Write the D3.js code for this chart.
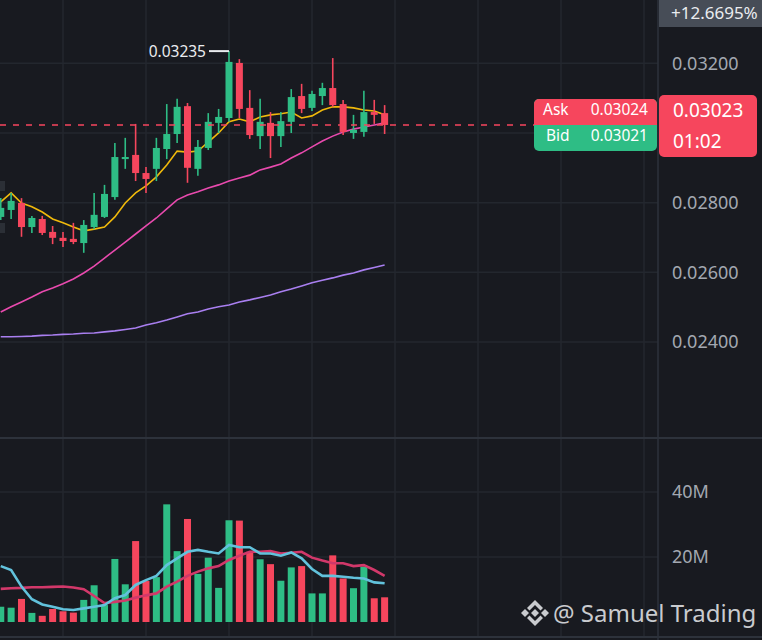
<!DOCTYPE html>
<html>
<head>
<meta charset="utf-8">
<script src="https://cdn.jsdelivr.net/npm/d3@7"></script>
<style>
    html, body { margin: 0; padding: 0; background: #181a20; }
    svg { display: block; font-family: "Noto Sans", sans-serif; }
</style>
</head>
<body>
<svg width="762" height="640"></svg>
<script>
// candles (oldest first)
let opens  = [0.02759, 0.02779, 0.02799, 0.02730, 0.02753, 0.02716, 0.02699, 0.02696, 0.02684, 0.02730,
              0.02759, 0.02816, 0.02925, 0.02937, 0.02885, 0.02897, 0.02954, 0.02997, 0.03077, 0.02897,
              0.02957, 0.03029, 0.03043, 0.03201, 0.03072, 0.02991, 0.03029, 0.02991, 0.03032, 0.03106,
              0.03072, 0.03106, 0.03129, 0.03083, 0.03000, 0.03003, 0.03060, 0.03057];
let highs  = [0.02813, 0.02828, 0.02813, 0.02762, 0.02762, 0.02733, 0.02716, 0.02742, 0.02750, 0.02828,
              0.02851, 0.02971, 0.02986, 0.03026, 0.02902, 0.02986, 0.03083, 0.03098, 0.03086, 0.02980,
              0.03057, 0.03069, 0.03235, 0.03212, 0.03123, 0.03098, 0.03060, 0.03060, 0.03126, 0.03141,
              0.03121, 0.03144, 0.03215, 0.03095, 0.03052, 0.03121, 0.03095, 0.03080];
let lows   = [0.02750, 0.02753, 0.02702, 0.02713, 0.02707, 0.02681, 0.02673, 0.02681, 0.02656, 0.02724,
              0.02756, 0.02808, 0.02897, 0.02862, 0.02828, 0.02862, 0.02925, 0.02971, 0.02857, 0.02877,
              0.02951, 0.03000, 0.03032, 0.03043, 0.02983, 0.02954, 0.02928, 0.02960, 0.03000, 0.03057,
              0.03063, 0.03080, 0.03075, 0.02994, 0.02983, 0.02989, 0.03026, 0.02997];
let closes = [0.02785, 0.02805, 0.02730, 0.02756, 0.02713, 0.02699, 0.02690, 0.02687, 0.02736, 0.02765,
              0.02825, 0.02931, 0.02931, 0.02885, 0.02868, 0.02957, 0.02997, 0.03075, 0.02900, 0.02960,
              0.03032, 0.03046, 0.03204, 0.03069, 0.02994, 0.03032, 0.02991, 0.03034, 0.03103, 0.03069,
              0.03112, 0.03129, 0.03080, 0.03003, 0.03009, 0.03060, 0.03052, 0.03023];

// moving averages shown on the price pane
let ma7  = [0.02802, 0.02828, 0.02799, 0.02788, 0.02773, 0.02753, 0.02742, 0.02730, 0.02719, 0.02724,
            0.02730, 0.02759, 0.02799, 0.02828, 0.02848, 0.02874, 0.02908, 0.02948, 0.02945, 0.02948,
            0.02974, 0.03000, 0.03032, 0.03040, 0.03032, 0.03046, 0.03052, 0.03055, 0.03060, 0.03043,
            0.03049, 0.03066, 0.03075, 0.03075, 0.03072, 0.03066, 0.03063, 0.03052];
let ma25 = [0.02486, 0.02501, 0.02515, 0.02529, 0.02544, 0.02555, 0.02567, 0.02581, 0.02598, 0.02618,
            0.02641, 0.02664, 0.02687, 0.02710, 0.02733, 0.02756, 0.02782, 0.02808, 0.02822, 0.02831,
            0.02842, 0.02851, 0.02862, 0.02871, 0.02879, 0.02894, 0.02902, 0.02911, 0.02928, 0.02943,
            0.02960, 0.02977, 0.02991, 0.03003, 0.03011, 0.03017, 0.03023, 0.03029];
let ma99 = [0.02415, 0.02415, 0.02416, 0.02417, 0.02419, 0.02420, 0.02422, 0.02423, 0.02425, 0.02426,
            0.02429, 0.02432, 0.02436, 0.02440, 0.02449, 0.02455, 0.02463, 0.02472, 0.02481, 0.02486,
            0.02495, 0.02501, 0.02506, 0.02515, 0.02521, 0.02528, 0.02535, 0.02544, 0.02552, 0.02561,
            0.02570, 0.02577, 0.02584, 0.02592, 0.02598, 0.02607, 0.02614, 0.02621];

// volume in millions, with its two averages
let volumes = [4.7, 4.4, 7.1, 2.8, 1.9, 4.0, 3.3, 2.9, 6.8, 11.3,
               5.2, 19.4, 11.6, 24.9, 12.6, 13.8, 36.2, 21.8, 31.7, 14.8,
               19.8, 10.5, 31.3, 31.2, 21.6, 19.3, 17.8, 12.7, 16.8, 17.2,
               8.8, 8.8, 20.5, 13.4, 10.4, 17.0, 7.3, 7.6];
let volMa5  = [17.2, 16.0, 10.9, 7.0, 5.4, 4.7, 3.9, 3.7, 4.2, 4.7,
               5.2, 7.3, 8.3, 11.4, 12.9, 14.2, 17.5, 19.6, 21.6, 22.2,
               21.6, 21.1, 23.7, 23.0, 23.0, 21.1, 21.1, 20.4, 21.4, 19.6,
               16.3, 14.2, 14.2, 13.9, 13.6, 13.4, 12.2, 11.9];
let volMa10 = [10.2, 10.4, 10.5, 10.7, 10.7, 10.8, 10.9, 10.6, 10.1, 8.0,
               5.8, 6.2, 6.6, 7.5, 8.2, 8.8, 10.9, 12.4, 14.2, 15.5,
               16.5, 17.2, 19.1, 20.4, 21.6, 21.6, 21.8, 21.1, 21.3, 21.6,
               19.8, 18.9, 18.1, 18.1, 17.2, 17.5, 16.0, 14.2];

let priceTicks = [0.032, 0.030, 0.028, 0.026, 0.024];
let volTicks = [40, 20];
let timeGrid = [6, 14, 22, 30, 38, 46, 54, 62];

let lastPrice = 0.03023, askPrice = "0.03024", bidPrice = "0.03021";
let countdown = "01:02", changeText = "+12.6695%";

(function () {
    'use strict';

    let green = "#2ebd85", red = "#f6465d", gridColor = "#23272e", textColor = "#a3a8b1";
    let svg = d3.select("svg");
    let plotRight = 658, priceBottom = 438, volBottom = 637;

    let candles = opens.map(function (o, i) {
        return {i: i, o: o, h: highs[i], l: lows[i], c: closes[i], v: volumes[i]};
    });

    let x = d3.scaleLinear().domain([0, 37]).range([0.75, 0.75 + 37 * 10.375]);
    let y = d3.scaleLinear().domain([0.024, 0.032]).range([342, 63.3]);
    let yv = d3.scaleLinear().domain([0, 40]).range([622, 492]);
    let py = y(lastPrice);

    let defs = svg.append("defs");
    defs.append("clipPath").attr("id", "clipPrice")
        .append("rect").attr("x", 0).attr("y", 0).attr("width", plotRight).attr("height", priceBottom);
    defs.append("clipPath").attr("id", "clipVol")
        .append("rect").attr("x", 0).attr("y", priceBottom + 1).attr("width", plotRight).attr("height", volBottom - priceBottom - 1);

    // grid
    let grid = svg.append("g");
    grid.selectAll(".vgrid").data(timeGrid).enter().append("line")
        .attr("x1", d => x(d)).attr("x2", d => x(d))
        .attr("y1", 0).attr("y2", volBottom)
        .attr("stroke", gridColor).attr("stroke-width", 1.5);
    grid.selectAll(".pgrid").data(priceTicks).enter().append("line")
        .attr("x1", 0).attr("x2", plotRight)
        .attr("y1", d => y(d)).attr("y2", d => y(d))
        .attr("stroke", gridColor).attr("stroke-width", 1.5);
    grid.selectAll(".vvgrid").data(volTicks).enter().append("line")
        .attr("x1", 0).attr("x2", plotRight)
        .attr("y1", d => yv(d)).attr("y2", d => yv(d))
        .attr("stroke", gridColor).attr("stroke-width", 1.5);

    // pane borders
    svg.append("line").attr("x1", 0).attr("x2", 762).attr("y1", priceBottom).attr("y2", priceBottom)
        .attr("stroke", "#2d323b").attr("stroke-width", 2);
    svg.append("line").attr("x1", 0).attr("x2", 762).attr("y1", volBottom).attr("y2", volBottom)
        .attr("stroke", "#2d323b").attr("stroke-width", 2);
    svg.append("line").attr("x1", plotRight).attr("x2", plotRight).attr("y1", 0).attr("y2", 640)
        .attr("stroke", "#2d323b").attr("stroke-width", 1.5);

    // stray overlay bits at the left edge
    svg.append("rect").attr("x", 0).attr("y", 181).attr("width", 5).attr("height", 10).attr("fill", "#2b2f36");
    svg.append("rect").attr("x", 0).attr("y", 223).attr("width", 5).attr("height", 10).attr("fill", "#2b2f36");

    // price pane
    let pricePane = svg.append("g").attr("clip-path", "url(#clipPrice)");

    let maLine = d3.line().x((d, i) => x(i)).y(d => y(d));
    [[ma99, "#a97ff0"], [ma25, "#e94aae"], [ma7, "#f0b90b"]].forEach(function (m) {
        pricePane.append("path").attr("d", maLine(m[0]))
            .attr("fill", "none").attr("stroke", m[1]).attr("stroke-width", 1.6);
    });

    let candle = pricePane.selectAll(".candle").data(candles).enter().append("g");
    candle.append("line")
        .attr("x1", d => x(d.i)).attr("x2", d => x(d.i))
        .attr("y1", d => y(d.h)).attr("y2", d => y(d.l))
        .attr("stroke", d => d.c >= d.o ? green : red).attr("stroke-width", 1.6);
    candle.append("rect")
        .attr("x", d => x(d.i) - 3.5).attr("width", 7)
        .attr("y", d => y(Math.max(d.o, d.c)))
        .attr("height", d => Math.max(1.5, Math.abs(y(d.o) - y(d.c))))
        .attr("fill", d => d.c >= d.o ? green : red);

    // highest price marker
    let top = candles.reduce((a, b) => b.h > a.h ? b : a);
    pricePane.append("line")
        .attr("x1", x(top.i) - 20).attr("x2", x(top.i))
        .attr("y1", y(top.h)).attr("y2", y(top.h))
        .attr("stroke", "#eaecef").attr("stroke-width", 2);
    pricePane.append("text")
        .attr("x", x(top.i) - 23).attr("y", y(top.h)).attr("dy", "0.35em")
        .attr("text-anchor", "end").attr("fill", "#eaecef").style("font-size", "15.5px")
        .text(d3.format(".5f")(top.h));

    // last price line
    svg.append("line")
        .attr("x1", 0).attr("x2", 534).attr("y1", py).attr("y2", py)
        .attr("stroke", red).attr("stroke-width", 1.5).attr("stroke-dasharray", "6,7");

    // volume pane
    let volPane = svg.append("g").attr("clip-path", "url(#clipVol)");
    volPane.selectAll(".vol").data(candles).enter().append("rect")
        .attr("x", d => x(d.i) - 3.5).attr("width", 7)
        .attr("y", d => yv(d.v)).attr("height", d => yv(0) - yv(d.v))
        .attr("fill", d => d.c >= d.o ? green : red);
    let volLine = d3.line().x((d, i) => x(i)).y(d => yv(d));
    volPane.append("path").attr("d", volLine(volMa10))
        .attr("fill", "none").attr("stroke", "#d2386a").attr("stroke-width", 2.6);
    volPane.append("path").attr("d", volLine(volMa5))
        .attr("fill", "none").attr("stroke", "#62c2dc").attr("stroke-width", 2.6);

    // right axes (the label under the price badge stays hidden)
    let shownPriceTicks = priceTicks.filter(t => Math.abs(y(t) - py) > 35);
    let priceAxis = svg.append("g").attr("transform", "translate(" + (plotRight + 4) + ",0)")
        .call(d3.axisRight(y).tickValues(shownPriceTicks).tickSize(0).tickPadding(10).tickFormat(d3.format(".5f")));
    let volAxis = svg.append("g").attr("transform", "translate(" + (plotRight + 4) + ",0)")
        .call(d3.axisRight(yv).tickValues(volTicks).tickSize(0).tickPadding(10).tickFormat(d => d + "M"));
    [priceAxis, volAxis].forEach(function (a) {
        a.select(".domain").remove();
        a.selectAll("text").attr("fill", textColor).style("font-size", "18px")
            .style("font-family", "'Noto Sans', sans-serif");
    });

    // change badge
    svg.append("rect").attr("x", plotRight + 1).attr("y", 0).attr("width", 762 - plotRight).attr("height", 27)
        .attr("fill", "#474d57");
    svg.append("text").attr("x", 671).attr("y", 19).attr("fill", "#eaecef")
        .style("font-size", "17px").text(changeText);

    // last price badge
    svg.append("rect").attr("x", 659).attr("y", py - 30).attr("width", 98).attr("height", 62)
        .attr("rx", 5).attr("fill", red);
    svg.append("text").attr("x", 673).attr("y", py - 8).attr("fill", "#ffffff")
        .style("font-size", "19px").text(d3.format(".5f")(lastPrice));
    svg.append("text").attr("x", 673).attr("y", py + 23).attr("fill", "#ffffff")
        .style("font-size", "19px").text(countdown);

    // ask / bid box
    let box = svg.append("g");
    box.append("rect").attr("x", 534).attr("y", py - 26).attr("width", 123).attr("height", 52)
        .attr("rx", 5).attr("fill", green);
    box.append("path")
        .attr("d", "M534," + (py - 21) + "a5,5 0 0 1 5,-5h113a5,5 0 0 1 5,5v21h-123z")
        .attr("fill", red);
    box.append("text").attr("x", 543).attr("y", py - 9.5).attr("fill", "#ffffff")
        .style("font-size", "15.5px").text("Ask");
    box.append("text").attr("x", 648).attr("y", py - 9.5).attr("fill", "#ffffff")
        .attr("text-anchor", "end").style("font-size", "15.5px").text(askPrice);
    box.append("text").attr("x", 546).attr("y", py + 16.5).attr("fill", "#ffffff")
        .style("font-size", "15.5px").text("Bid");
    box.append("text").attr("x", 648).attr("y", py + 16.5).attr("fill", "#ffffff")
        .attr("text-anchor", "end").style("font-size", "15.5px").text(bidPrice);

    // watermark
    let wm = svg.append("g").attr("fill", "#d9dbde").attr("opacity", 0.92);
    let logo = wm.append("g").attr("transform", "translate(535,613)");
    logo.append("path").attr("d", "M0,-4L4,0L0,4L-4,0Z");
    logo.append("path").attr("d", "M-10,-4L-6,0L-10,4L-14,0Z");
    logo.append("path").attr("d", "M10,-4L14,0L10,4L6,0Z");
    logo.append("path").attr("d", "M0,-13L8,-5L5.5,-2.5L0,-8L-5.5,-2.5L-8,-5Z");
    logo.append("path").attr("d", "M0,13L8,5L5.5,2.5L0,8L-5.5,2.5L-8,5Z");
    wm.append("text").attr("x", 553).attr("y", 622).style("font-size", "24px")
        .text("@ Samuel Trading");
}());
</script>
</body>
</html>
